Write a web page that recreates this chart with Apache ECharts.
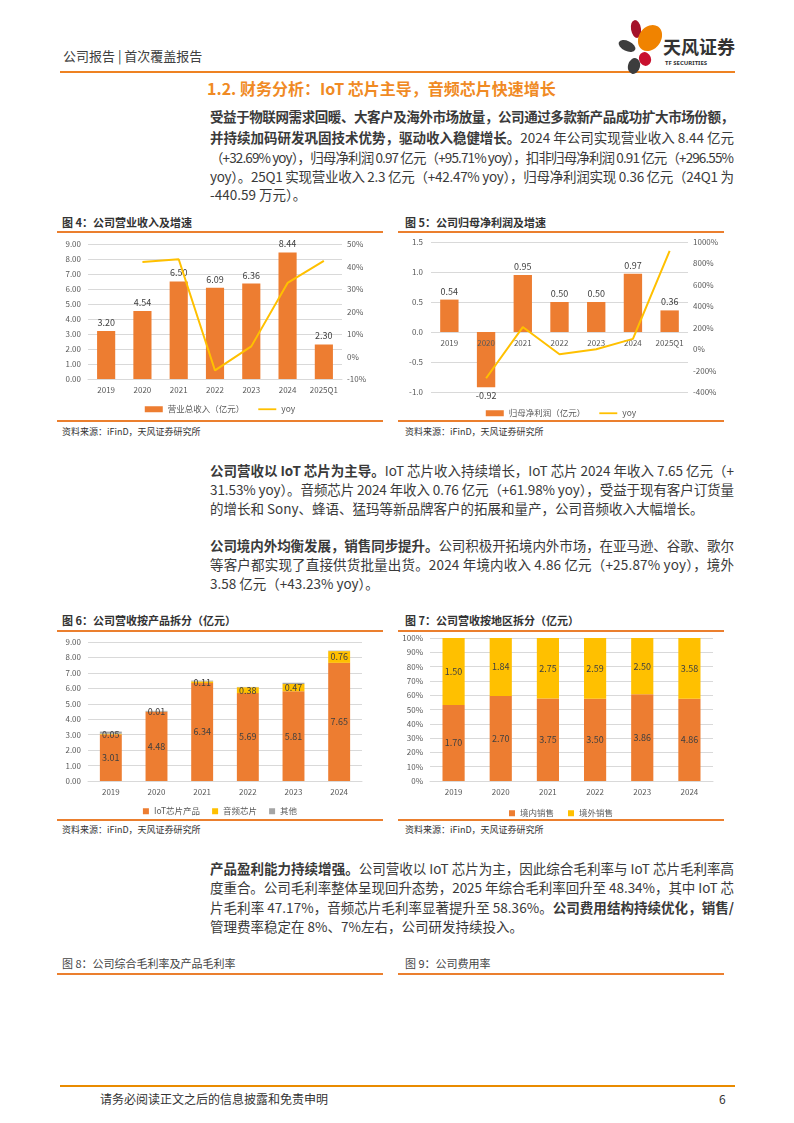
<!DOCTYPE html>
<html><head><meta charset="utf-8">
<script src="https://cdn.jsdelivr.net/npm/echarts@6/dist/echarts.min.js"></script>
<style>
html,body{margin:0;padding:0;background:#fff;}
body{width:794px;height:1123px;position:relative;overflow:hidden;font-family:"Noto Sans CJK SC","Noto Sans",sans-serif;color:#333;}
.abs{position:absolute;}
.hline{position:absolute;height:1.5px;background:#EB7F2E;}
.line{position:absolute;left:210px;white-space:nowrap;font-size:13.5px;line-height:19px;color:#3a3a3a;}
.figt{position:absolute;font-size:11px;font-weight:bold;color:#333;white-space:nowrap;}
.src{position:absolute;font-size:9px;color:#333;white-space:nowrap;}
b{font-weight:bold;}
.chart{position:absolute;}
</style></head>
<body>
<script>
// ---- DATA ----
const years4 = ['2019','2020','2021','2022','2023','2024','2025Q1'];
const revenue = [3.20, 4.54, 6.50, 6.09, 6.36, 8.44, 2.30];
const revenueYoy = [null, 42.0, 43.2, -6.2, 4.5, 32.7, 42.5];
const netProfit = [0.54, -0.92, 0.95, 0.50, 0.50, 0.97, 0.36];
const netProfitYoy = [null, -272, 206, -48, -1, 95.7, 917];
const years6 = ['2019','2020','2021','2022','2023','2024'];
const iotRev = [3.01, 4.48, 6.34, 5.69, 5.81, 7.65];
const audioRev = [0.05, 0.01, 0.11, 0.38, 0.47, 0.76];
const otherRev = [0.14, 0.05, 0.05, 0.02, 0.08, 0.03];
const domesticRev = [1.70, 2.70, 3.75, 3.50, 3.86, 4.86];
const overseasRev = [1.50, 1.84, 2.75, 2.59, 2.50, 3.58];
const leftTicks4 = {min:0, max:9, interval:1};
const rightTicks4 = {min:-10, max:50, interval:10};
const leftTicks5 = {min:-1, max:1.5, interval:0.5};
const rightTicks5 = {min:-400, max:1000, interval:200};
</script>

<!-- header -->
<div class="abs" style="left:63px;top:46px;font-size:13px;color:#404040;">公司报告 | 首次覆盖报告</div>
<div class="abs" style="left:60px;top:71px;width:675px;height:2px;background:#EE8222;"></div>
<svg class="abs" style="left:612px;top:16px;" width="128" height="58" viewBox="0 0 128 58">
  <ellipse cx="24" cy="13" rx="5" ry="9" fill="#A5122A" transform="rotate(-10 24 13)"/>
  <ellipse cx="38" cy="22" rx="11" ry="14" fill="#F08300" transform="rotate(35 38 22)"/>
  <ellipse cx="15" cy="30" rx="9" ry="5" fill="#3d3d3d" transform="rotate(25 15 30)"/>
  <ellipse cx="33" cy="43" rx="6" ry="7" fill="#C8102E" transform="rotate(-20 33 43)"/>
  <ellipse cx="22" cy="50" rx="6" ry="8" fill="#3d3d3d" transform="rotate(15 22 50)"/>
  <text x="51" y="38" font-size="18" font-weight="bold" fill="#333" font-family="Noto Sans CJK SC">天风证券</text>
  <text x="53" y="49" font-size="6" font-weight="bold" fill="#333" font-family="Noto Sans">TF SECURITIES</text>
</svg>

<!-- section title -->
<div class="abs" style="left:207px;top:76px;font-size:16px;font-weight:bold;color:#F08A24;white-space:nowrap;">1.2. 财务分析：IoT 芯片主导，音频芯片快速增长</div>

<!-- paragraph 1 -->
<div class="line jl" style="top:106.5px;"><b>受益于物联网需求回暖、大客户及海外市场放量，公司通过多款新产品成功扩大市场份额，</b></div>
<div class="line jl" style="top:127.5px;"><b>并持续加码研发巩固技术优势，驱动收入稳健增长。</b>2024 年公司实现营业收入 8.44 亿元</div>
<div class="line jl" style="top:147.5px;">（+32.69% yoy），归母净利润 0.97 亿元（+95.71% yoy），扣非归母净利润 0.91 亿元（+296.55%</div>
<div class="line jl" style="top:166.5px;">yoy）。25Q1 实现营业收入 2.3 亿元（+42.47% yoy），归母净利润实现 0.36 亿元（24Q1 为</div>
<div class="line" style="top:185px;">-440.59 万元）。</div>

<!-- fig 4 / 5 titles -->
<div class="figt" style="left:62px;top:214px;">图 4：公司营业收入及增速</div>
<div class="figt" style="left:405px;top:214px;">图 5：公司归母净利润及增速</div>
<div class="hline" style="left:57px;top:231px;width:326px;"></div>
<div class="hline" style="left:398px;top:231px;width:326px;"></div>
<div id="c4" class="chart" style="left:57px;top:234px;width:326px;height:185px;"></div>
<div id="c5" class="chart" style="left:398px;top:234px;width:326px;height:185px;"></div>
<div class="hline" style="left:57px;top:420px;width:326px;"></div>
<div class="hline" style="left:398px;top:420px;width:326px;"></div>
<div class="src" style="left:62px;top:425px;">资料来源：iFinD，天风证券研究所</div>
<div class="src" style="left:405px;top:425px;">资料来源：iFinD，天风证券研究所</div>

<!-- paragraph 2 -->
<div class="line jl" style="top:460.5px;"><b>公司营收以 IoT 芯片为主导。</b>IoT 芯片收入持续增长，IoT 芯片 2024 年收入 7.65 亿元（+</div>
<div class="line jl" style="top:479.5px;">31.53% yoy）。音频芯片 2024 年收入 0.76 亿元（+61.98% yoy），受益于现有客户订货量</div>
<div class="line" style="top:498.5px;">的增长和 Sony、蜂语、猛玛等新品牌客户的拓展和量产，公司音频收入大幅增长。</div>

<!-- paragraph 3 -->
<div class="line jl" style="top:535.5px;"><b>公司境内外均衡发展，销售同步提升。</b>公司积极开拓境内外市场，在亚马逊、谷歌、歌尔</div>
<div class="line jl" style="top:554.5px;">等客户都实现了直接供货批量出货。2024 年境内收入 4.86 亿元（+25.87% yoy），境外</div>
<div class="line" style="top:574px;">3.58 亿元（+43.23% yoy）。</div>

<!-- fig 6 / 7 -->
<div class="figt" style="left:62px;top:612px;">图 6：公司营收按产品拆分（亿元）</div>
<div class="figt" style="left:405px;top:612px;">图 7：公司营收按地区拆分（亿元）</div>
<div class="hline" style="left:57px;top:630px;width:326px;"></div>
<div class="hline" style="left:398px;top:630px;width:326px;"></div>
<div id="c6" class="chart" style="left:57px;top:633px;width:326px;height:186px;"></div>
<div id="c7" class="chart" style="left:398px;top:633px;width:326px;height:186px;"></div>
<div class="hline" style="left:57px;top:819px;width:326px;"></div>
<div class="hline" style="left:398px;top:819px;width:326px;"></div>
<div class="src" style="left:62px;top:823px;">资料来源：iFinD，天风证券研究所</div>
<div class="src" style="left:405px;top:823px;">资料来源：iFinD，天风证券研究所</div>

<!-- paragraph 4 -->
<div class="line jl" style="top:858.5px;"><b>产品盈利能力持续增强。</b>公司营收以 IoT 芯片为主，因此综合毛利率与 IoT 芯片毛利率高</div>
<div class="line jl" style="top:878px;">度重合。公司毛利率整体呈现回升态势，2025 年综合毛利率回升至 48.34%，其中 IoT 芯</div>
<div class="line jl" style="top:897.5px;">片毛利率 47.17%，音频芯片毛利率显著提升至 58.36%。<b>公司费用结构持续优化，销售/</b></div>
<div class="line" style="top:916.5px;">管理费率稳定在 8%、7%左右，公司研发持续投入。</div>

<!-- fig 8 / 9 titles -->
<div class="figt" style="left:62px;top:955px;font-weight:normal;color:#444;">图 8：公司综合毛利率及产品毛利率</div>
<div class="figt" style="left:405px;top:955px;font-weight:normal;color:#444;">图 9：公司费用率</div>
<div class="hline" style="left:57px;top:973px;width:326px;"></div>
<div class="hline" style="left:398px;top:973px;width:326px;"></div>

<!-- footer -->
<div class="abs" style="left:60px;top:1085px;width:675px;height:2px;background:#E98B00;"></div>
<div class="abs" style="left:100px;top:1090px;font-size:12px;color:#333;">请务必阅读正文之后的信息披露和免责申明</div>
<div class="abs" style="left:719px;top:1090px;font-size:12px;color:#333;">6</div>

<script>
// justify full lines
document.querySelectorAll('.jl').forEach(el => {
  const w = el.getBoundingClientRect().width;
  const n = el.textContent.length;
  const target = 524;
  el.style.letterSpacing = ((target - w) / (n - 1)) + 'px';
});

const FONT = '"Noto Sans CJK SC","Noto Sans",sans-serif';
const ORANGE = '#ED7D31', YELLOW = '#FFC000', GRAY = '#A5A5A5';
const GRID = '#D9D9D9', LBL = '#595959', DLBL = '#404040';
const LINE_ICON = 'path://M0,0 L24,0 L24,2.4 L0,2.4 Z';

// ---- Fig 4 ----
echarts.init(document.getElementById('c4')).setOption({
  animation:false, textStyle:{fontFamily:FONT},
  grid:{left:31, right:41, top:10, bottom:40},
  legend:{top:166, itemWidth:18, itemHeight:6, itemGap:14,
    textStyle:{fontSize:8.5, color:LBL},
    data:[{name:'营业总收入（亿元）', icon:'rect'}, {name:'yoy', icon:LINE_ICON}]},
  xAxis:{type:'category', data:years4,
    axisLine:{lineStyle:{color:GRID}}, axisTick:{show:false},
    axisLabel:{fontSize:8, color:LBL, margin:7, interval:0}},
  yAxis:[
    {type:'value', min:leftTicks4.min, max:leftTicks4.max, interval:leftTicks4.interval,
     axisLabel:{fontSize:8, color:LBL, margin:7, formatter:v => v.toFixed(2)},
     splitLine:{lineStyle:{color:GRID}}},
    {type:'value', min:rightTicks4.min, max:rightTicks4.max, interval:rightTicks4.interval,
     axisLabel:{fontSize:8, color:LBL, margin:5, formatter:v => v + '%'},
     splitLine:{show:false}}
  ],
  series:[
    {type:'bar', name:'营业总收入（亿元）', data:revenue, barWidth:'50%',
     itemStyle:{color:ORANGE},
     label:{show:true, position:'top', distance:4, fontSize:9, color:DLBL, formatter:p => p.value.toFixed(2)}},
    {type:'line', name:'yoy', yAxisIndex:1, data:revenueYoy, symbol:'none',
     lineStyle:{color:YELLOW, width:2}, itemStyle:{color:YELLOW}}
  ]
});

// ---- Fig 5 ----
const grid5 = {left:33, right:36, top:8, bottom:27};
const plotH5 = 185 - grid5.top - grid5.bottom;
// category axis sits on the zero line of the left value axis
const zeroOffset5 = -plotH5 * (0 - leftTicks5.min) / (leftTicks5.max - leftTicks5.min);
echarts.init(document.getElementById('c5')).setOption({
  animation:false, textStyle:{fontFamily:FONT},
  grid:grid5,
  legend:{top:170, itemWidth:18, itemHeight:6, itemGap:14,
    textStyle:{fontSize:8.5, color:LBL},
    data:[{name:'归母净利润（亿元）', icon:'rect'}, {name:'yoy', icon:LINE_ICON}]},
  xAxis:{type:'category', data:years4, offset:zeroOffset5, z:5,
    axisLine:{show:false, onZero:false}, axisTick:{show:false},
    axisLabel:{fontSize:8, color:LBL, margin:7, interval:0}},
  yAxis:[
    {type:'value', min:leftTicks5.min, max:leftTicks5.max, interval:leftTicks5.interval,
     axisLabel:{fontSize:8, color:LBL, margin:8, formatter:v => v.toFixed(1)},
     splitLine:{lineStyle:{color:GRID}}},
    {type:'value', min:rightTicks5.min, max:rightTicks5.max, interval:rightTicks5.interval,
     axisLabel:{fontSize:8, color:LBL, margin:5, formatter:v => v + '%'},
     splitLine:{show:false}}
  ],
  series:[
    {type:'bar', name:'归母净利润（亿元）', barWidth:'50%',
     data:netProfit.map(v => ({value:v, label:{position: v < 0 ? 'bottom' : 'top'}})),
     itemStyle:{color:ORANGE},
     label:{show:true, distance:4, fontSize:9, color:DLBL, formatter:p => p.value.toFixed(2)}},
    {type:'line', name:'yoy', yAxisIndex:1, data:netProfitYoy, symbol:'none', z:6,
     lineStyle:{color:YELLOW, width:2}, itemStyle:{color:YELLOW}}
  ]
});

// ---- Fig 6 ----
echarts.init(document.getElementById('c6')).setOption({
  animation:false, textStyle:{fontFamily:FONT},
  grid:{left:31, right:21, top:9, bottom:38},
  legend:{top:169, left:'center', itemWidth:6, itemHeight:6, itemGap:12, icon:'rect',
    textStyle:{fontSize:8.5, color:LBL},
    data:['IoT芯片产品','音频芯片','其他']},
  xAxis:{type:'category', data:years6,
    axisLine:{lineStyle:{color:GRID}}, axisTick:{show:false},
    axisLabel:{fontSize:8, color:LBL, margin:7, interval:0}},
  yAxis:{type:'value', min:leftTicks4.min, max:leftTicks4.max, interval:leftTicks4.interval,
    axisLabel:{fontSize:8, color:LBL, margin:7, formatter:v => v.toFixed(2)},
    splitLine:{lineStyle:{color:GRID}}},
  series:[
    {type:'bar', name:'IoT芯片产品', stack:'t', data:iotRev, barWidth:'48%',
     itemStyle:{color:ORANGE},
     label:{show:true, position:'inside', fontSize:9, color:DLBL, formatter:p => p.value.toFixed(2)}},
    {type:'bar', name:'音频芯片', stack:'t', data:audioRev,
     itemStyle:{color:YELLOW},
     label:{show:true, position:'inside', fontSize:9, color:DLBL, formatter:p => p.value.toFixed(2)}},
    {type:'bar', name:'其他', stack:'t', data:otherRev, itemStyle:{color:GRAY}}
  ]
});

// ---- Fig 7 ----
const totalsRegion = domesticRev.map((v, i) => v + overseasRev[i]);
echarts.init(document.getElementById('c7')).setOption({
  animation:false, textStyle:{fontFamily:FONT},
  grid:{left:32, right:11, top:5, bottom:38},
  legend:{top:171, itemWidth:6, itemHeight:6, itemGap:14, icon:'rect',
    textStyle:{fontSize:8.5, color:LBL},
    data:['境内销售','境外销售']},
  xAxis:{type:'category', data:years6,
    axisLine:{lineStyle:{color:GRID}}, axisTick:{show:false},
    axisLabel:{fontSize:8, color:LBL, margin:7, interval:0}},
  yAxis:{type:'value', min:0, max:100, interval:10,
    axisLabel:{fontSize:8, color:LBL, margin:7, formatter:'{value}%'},
    splitLine:{lineStyle:{color:GRID}}},
  series:[
    {type:'bar', name:'境内销售', stack:'p', barWidth:'47%',
     data:domesticRev.map((v, i) => v / totalsRegion[i] * 100),
     itemStyle:{color:ORANGE},
     label:{show:true, position:'inside', fontSize:9, color:DLBL, formatter:p => domesticRev[p.dataIndex].toFixed(2)}},
    {type:'bar', name:'境外销售', stack:'p',
     data:overseasRev.map((v, i) => v / totalsRegion[i] * 100),
     itemStyle:{color:YELLOW},
     label:{show:true, position:'inside', fontSize:9, color:DLBL, formatter:p => overseasRev[p.dataIndex].toFixed(2)}}
  ]
});
</script>
</body></html>
